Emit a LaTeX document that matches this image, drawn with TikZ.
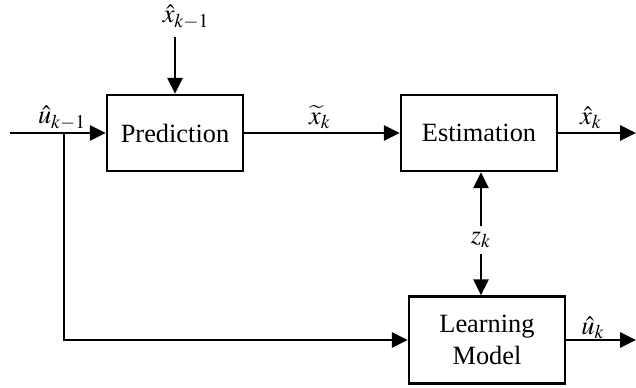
\documentclass[tikz,border=0pt]{standalone}
\usepackage{mathptmx}
\usepackage{fontspec}
\setmainfont{Liberation Serif}
\usepackage{tikz}
\usetikzlibrary{positioning,arrows.meta}

\begin{document}
\begin{tikzpicture}[
    x=0.02cm, y=-0.02cm,
    font=\fontsize{15}{17}\selectfont,
    block/.style={draw, rectangle, line width=1.5pt, minimum width=3.12cm, minimum height=1.52cm, align=center, inner sep=0pt},
    lbl/.style={inner sep=1pt},
    line/.style={draw, line width=1.5pt, -{Triangle[length=9pt,width=8.5pt]}}
]
    \useasboundingbox (0,0) rectangle (636,388);

    % Nodes
    \node[block, minimum width=2.72cm] (pred) at (175,133) {Prediction};
    \node[block] (est) at (479,133) {Estimation};
    \node[block, minimum height=1.74cm] (learn) at (487,340) {Learning\\[1pt]Model};

    \node[lbl] (xprev) at (186,17) {$\hat{x}_{k-1}$};
    \node[lbl] (uprev) at (62,118) {$\hat{u}_{k-1}$};
    \node[lbl] (xtil) at (320,117) {$\widetilde{x}_k$};
    \node[lbl] (xhat) at (591,118) {$\hat{x}_k$};
    \node[lbl] (uhat) at (593,328) {$\hat{u}_k$};
    \node[lbl, inner sep=3pt] (zk) at (481,240) {$z_k$};

    \coordinate (in) at (10,133);
    \coordinate (jn) at (64,133);
    \coordinate (out1) at (636,133);
    \coordinate (out2) at (636,340);

    % Connections
    \draw[line] (pred.north) ++(0,-57) -- (pred.north);
    \draw[line] (in) -- (pred);
    \draw[line] (jn) |- (learn);
    \draw[line] (pred) -- (est);
    \draw[line] (est) -- (out1);
    \draw[line] (learn) -- (out2);
    \draw[line] (zk) -- (zk |- est.south);
    \draw[line] (zk) -- (zk |- learn.north);
\end{tikzpicture}
\end{document}
